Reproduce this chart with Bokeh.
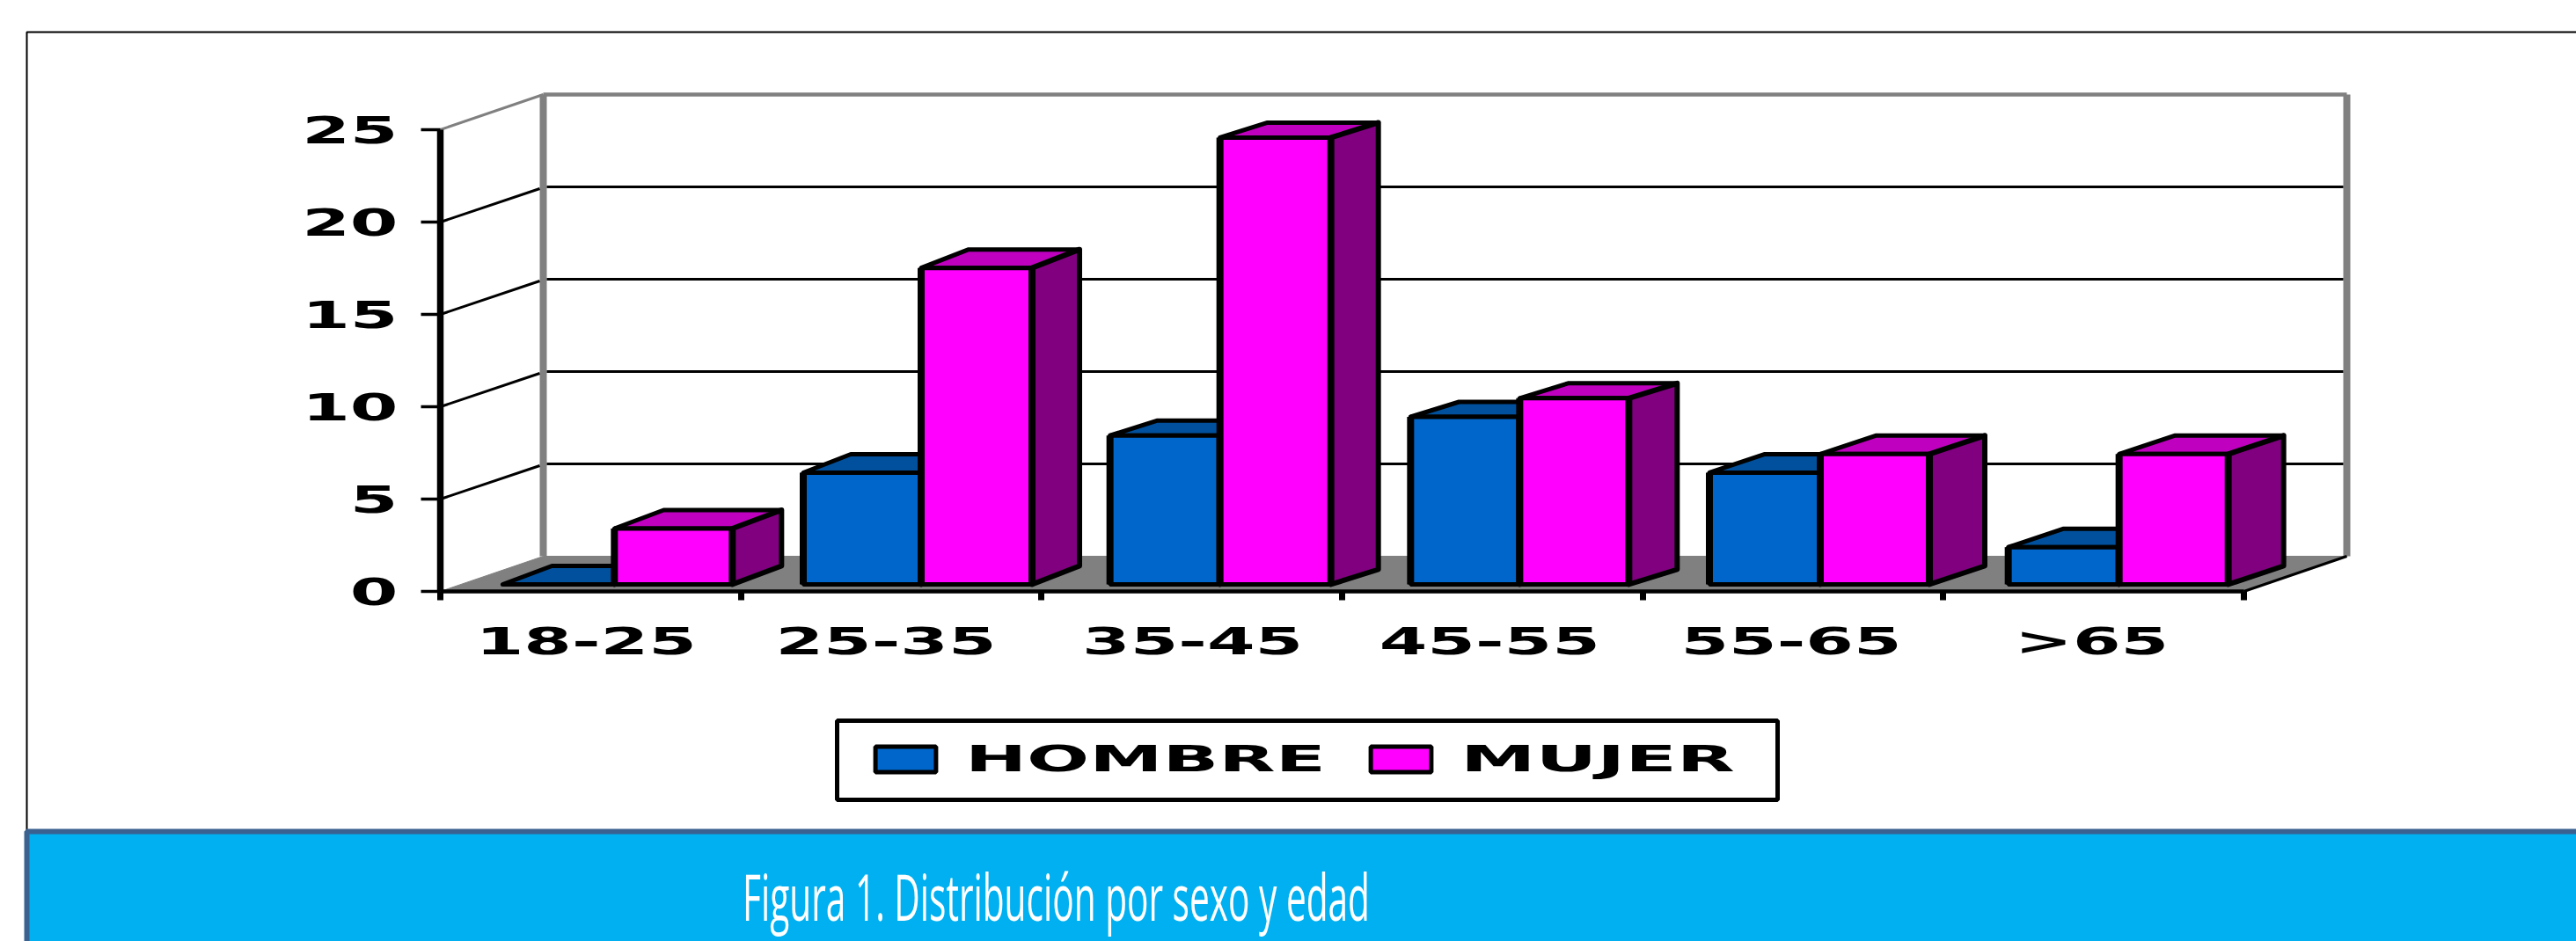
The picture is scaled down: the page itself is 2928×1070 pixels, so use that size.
from bokeh.document import Document
from bokeh.events import DocumentReady
from bokeh.plotting import figure
from bokeh.models import (BoxAnnotation, CustomJS, FixedTicker, Label, Legend, LegendItem,
                          LinearAxis, Range1d)
from bokeh.embed import file_html
from bokeh.resources import INLINE

# ---- data -------------------------------------------------------------
categories = ["18-25", "25-35", "35-45", "45-55", "55-65", ">65"]
hombre = [0, 6, 8, 9, 6, 2]
mujer = [3, 17, 24, 10, 7, 7]
y_ticks = [0, 5, 10, 15, 20, 25]
series_names = ["HOMBRE", "MUJER"]
title_text = "Figura 1. Distribución por sexo y edad"

# ---- layout constants (page pixels; Bokeh's page template has no body margin) ----
W, H = 2928, 1070
AX_L, AX_B = 500, 672
PX_PER_CAT = 2050 / 6
PX_PER_UNIT = 21.0


def dxp(px):
    return px / PX_PER_CAT


def dyp(px):
    return px / PX_PER_UNIT


def X(px):
    return (px - AX_L) / PX_PER_CAT


def Y(py):
    return (AX_B - py) / PX_PER_UNIT


# depth of the walls and of each group's bars, in pixels
WALL_DX, WALL_DY = 117, 40
GROUP_NUDGE = [-3, 4, 2, 1, 1, -1]
BLUE_W = [127, 134, 125, 124, 126, 126]
PINK_W = [134, 126, 126, 124, 124, 124]
SPLIT = 30
BAR_DX = [56, 54, 54, 55, 63, 63]
BAR_DY = [21, 21, 17, 17, 21, 21]
BASE_LIFT = 8
BAR_SCALE = 1.008
LABEL_SHIFT = [-5, -6, 1, -3, -2, -2]

BLUE, BLUE_TOP = "#0066CC", "#01509D"
PINK, PINK_TOP, PINK_SIDE = "#FF00FF", "#BF00BF", "#800080"
GREY = "#808080"
FONT = "DejaVu Sans"

p = figure(width=W, height=H, output_backend="svg", toolbar_location=None,
           x_range=Range1d(X(0), X(W)),
           y_range=Range1d(Y(H), Y(0)),
           x_axis_type=None, y_axis_type=None,
           min_border=0)
p.outline_line_color = None
p.grid.visible = False
p.background_fill_color = "white"
p.border_fill_color = "white"

# ---- outer frame and caption band ---------------------------------------
p.add_layout(BoxAnnotation(left=X(30), right=X(3000), top=Y(36), bottom=Y(945),
                           fill_color=None, fill_alpha=0, line_color="black", line_alpha=1,
                           line_width=2, level="underlay"))
p.add_layout(BoxAnnotation(left=X(30), right=X(3000), top=Y(945), bottom=Y(1100),
                           fill_color="#00B0F0", fill_alpha=1, line_color="#3A6190", line_alpha=1,
                           line_width=6, level="underlay"))
p.add_layout(Label(x=X(1200), y=Y(1018), text=title_text, text_align="center",
                   text_baseline="alphabetic", text_color="white", text_font="Open Sans",
                   text_font_size="74px"))

# ---- walls and floor ----------------------------------------------------
cats_n = len(categories)
wdx, wdy = dxp(WALL_DX), dyp(WALL_DY)
p.patch([0, wdx, cats_n + wdx, cats_n], [0, wdy, wdy, 0], fill_color=GREY, line_color=GREY, line_width=1)
p.segment(x0=[wdx, cats_n + wdx], y0=[wdy, wdy], x1=[wdx, cats_n + wdx], y1=[25 + wdy, 25 + wdy],
          line_color=GREY, line_width=8)
p.segment(x0=[wdx], y0=[25 + wdy], x1=[cats_n + wdx], y1=[25 + wdy], line_color=GREY, line_width=4.5)
p.segment(x0=[0], y0=[25], x1=[wdx], y1=[25 + wdy], line_color=GREY, line_width=3)
inner = [v for v in y_ticks if 0 < v < 25]
p.segment(x0=[wdx + dxp(4)] * 4, y0=[v + wdy for v in inner], x1=[cats_n + wdx - dxp(4)] * 4,
          y1=[v + wdy for v in inner], line_color="black", line_width=3)
p.segment(x0=[0] * 4, y0=inner, x1=[wdx - dxp(4)] * 4, y1=[v + wdy - dyp(2) for v in inner],
          line_color="black", line_width=3)
p.segment(x0=[cats_n], y0=[0], x1=[cats_n + wdx], y1=[wdy], line_color="black", line_width=3)


# ---- bars ---------------------------------------------------------------
def split(i):
    return i + 0.5 + dxp(SPLIT + GROUP_NUDGE[i])


def faces(values, L, R):
    lift = dyp(BASE_LIFT)
    T = [v * BAR_SCALE + lift for v in values]
    B = [lift] * cats_n
    DX = [dxp(d) for d in BAR_DX]
    DY = [dyp(d) for d in BAR_DY]
    top_x = [[l, l + d, r + d, r] for l, r, d in zip(L, R, DX)]
    top_y = [[t, t + e, t + e, t] for t, e in zip(T, DY)]
    side_x = [[r, r + d, r + d, r] for r, d in zip(R, DX)]
    side_y = [[b, b + e, t + e, t] for b, t, e in zip(B, T, DY)]
    return T, B, top_x, top_y, side_x, side_y


splits = [split(i) for i in range(cats_n)]
blue_left = [s - dxp(w) for s, w in zip(splits, BLUE_W)]
pink_right = [s + dxp(w) for s, w in zip(splits, PINK_W)]
renderers = []
for values, L, R, fc, tc, sc in [
    (hombre, blue_left, splits, BLUE, BLUE_TOP, BLUE_TOP),
    (mujer, splits, pink_right, PINK, PINK_TOP, PINK_SIDE),
]:
    T, B, tx, ty, sx, sy = faces(values, L, R)
    p.patches(tx, ty, fill_color=tc, line_color="black", line_width=5, line_join="round")
    p.patches(sx, sy, fill_color=sc, line_color="black", line_width=6, line_join="round")
    r = p.quad(left=L, right=R, top=T, bottom=B, fill_color=fc, line_color="black", line_width=5)
    renderers.append(r)
    p.segment(x0=L + R, y0=B + B, x1=L + R, y1=T + T, line_color="black", line_width=8)

# ---- axes (no space of their own: they sit on data positions) -----------
label_size = "42px"
yaxis = LinearAxis(ticker=FixedTicker(ticks=y_ticks), bounds=(0, 25), fixed_location=0)
yaxis.axis_line_width = 7.5
yaxis.axis_line_color = "black"
yaxis.major_tick_in = 0
yaxis.major_tick_out = 22
yaxis.major_tick_line_width = 3.5
yaxis.minor_tick_line_color = None
yaxis.major_label_standoff = 26
yaxis.major_label_text_font = FONT
yaxis.major_label_text_font_style = "bold"
yaxis.major_label_text_font_size = label_size
yaxis.major_label_text_color = "black"
p.add_layout(yaxis, "left")

label_ticks = [i + 0.5 + dxp(LABEL_SHIFT[i]) for i in range(cats_n)]
xaxis = LinearAxis(ticker=FixedTicker(ticks=label_ticks, minor_ticks=list(range(cats_n + 1))),
                   bounds=(0, cats_n), fixed_location=0)
xaxis.major_label_overrides = dict(zip(label_ticks, categories))
xaxis.axis_line_width = 4.5
xaxis.axis_line_color = "black"
xaxis.major_tick_line_color = None
xaxis.major_tick_in = 0
xaxis.major_tick_out = 8
xaxis.minor_tick_in = 0
xaxis.minor_tick_out = 10
xaxis.minor_tick_line_width = 7
xaxis.minor_tick_line_color = "black"
xaxis.major_label_standoff = 23
xaxis.major_label_text_font = FONT
xaxis.major_label_text_font_style = "bold"
xaxis.major_label_text_font_size = label_size
xaxis.major_label_text_color = "black"
p.add_layout(xaxis, "below")

# ---- legend -------------------------------------------------------------
p.add_layout(BoxAnnotation(left=X(951), right=X(2020), top=Y(819), bottom=Y(909),
                           fill_color="white", fill_alpha=1, line_color="black", line_alpha=1,
                           line_width=5, level="underlay"))
legend = Legend(items=[LegendItem(label=n, renderers=[r]) for n, r in zip(series_names, renderers)],
                orientation="horizontal", location=(986, H - 887),
                glyph_width=86, glyph_height=36, label_standoff=25, label_width=303, spacing=149,
                padding=0, margin=0, border_line_color=None, background_fill_alpha=0,
                label_text_font=FONT, label_text_font_style="bold", label_text_font_size="41px",
                label_text_color="black")
p.add_layout(legend, "center")

# The reference's texts are stretched unevenly (wide labels, tall narrow caption):
# set each text's horizontal scale so that it reaches the reference's width.
stretch = CustomJS(args=dict(widths={"HOMBRE": 410, "MUJER": 312, title_text: 713},
                             yticks=[str(v) for v in y_ticks]), code="""
const default_scale = 1.87;
function walk(root, out) {
  root.querySelectorAll('*').forEach(e => {
    const tag = e.tagName.toLowerCase();
    if (tag === 'text') out.svg.push(e);
    else if (e.children.length === 0 && (e.textContent === 'HOMBRE' || e.textContent === 'MUJER')
             && tag !== 'style' && tag !== 'script') out.html.push(e);
    if (e.shadowRoot) walk(e.shadowRoot, out);
  });
  return out;
}
function apply() {
  const found = walk(document, {svg: [], html: []});
  for (const t of found.svg) {
    if (t.dataset.stretched) continue;
    const b = t.getBBox();
    const txt = t.textContent;
    const s = txt in widths ? widths[txt] / t.getComputedTextLength() : default_scale;
    const x = yticks.includes(txt) ? b.x + b.width : b.x + b.width / 2;
    const y = b.y + b.height / 2;
    const prev = t.getAttribute('transform') || '';
    t.setAttribute('transform', `${prev} translate(${x} ${y}) scale(${s} 1) translate(${-x} ${-y})`);
    t.dataset.stretched = '1';
  }
  for (const e of found.html) {
    if (e.dataset.stretched) continue;
    const r = document.createRange();
    r.selectNodeContents(e);
    const natural = r.getBoundingClientRect().width;
    e.style.display = 'inline-block';
    e.style.whiteSpace = 'nowrap';
    e.style.transformOrigin = 'left center';
    e.style.transform = `scaleX(${widths[e.textContent] / natural})`;
    e.dataset.stretched = '1';
  }
}
apply();
let n = 0;
const id = setInterval(() => { apply(); if (++n > 40) clearInterval(id); }, 100);
""")
doc = Document()
doc.add_root(p)
doc.js_on_event(DocumentReady, stretch)

open("out.html", "w").write(file_html(p, INLINE))
